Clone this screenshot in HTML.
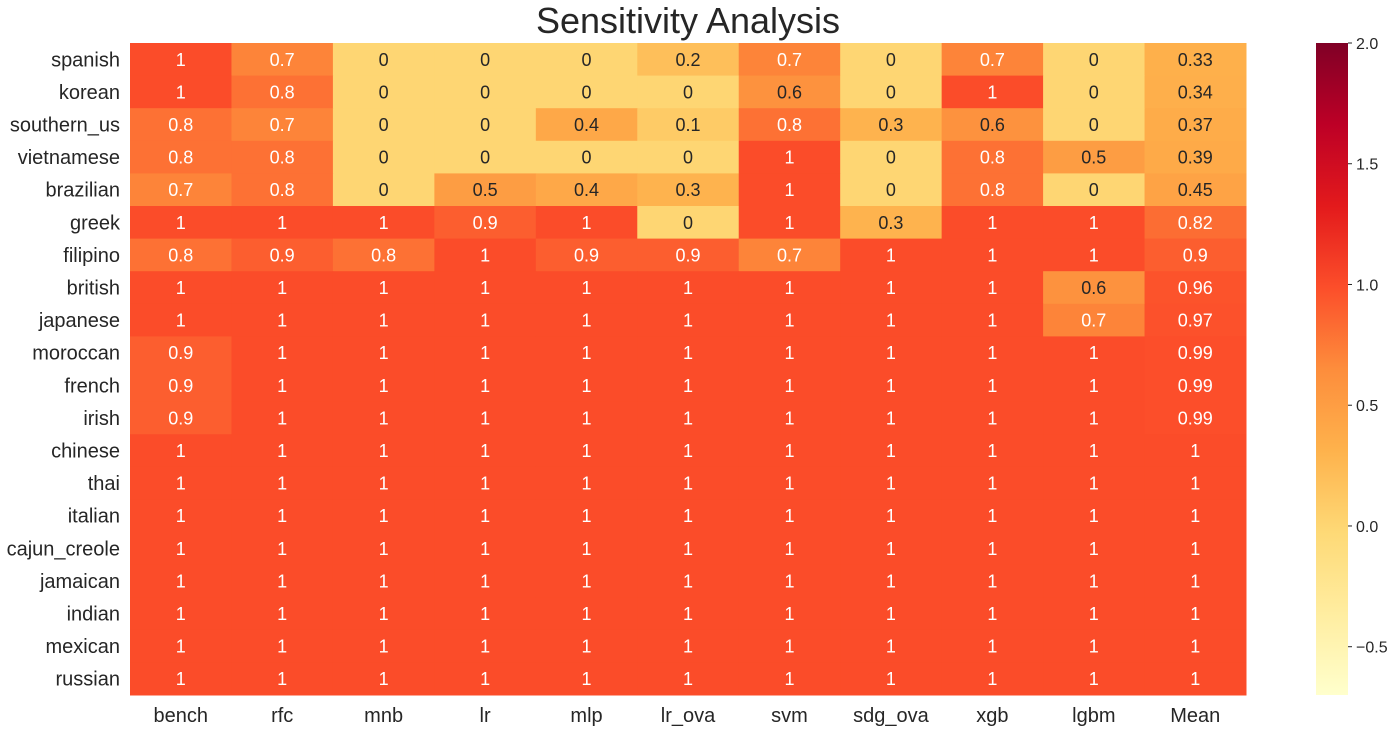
<!DOCTYPE html>
<html><head><meta charset="utf-8"><style>
html,body{margin:0;padding:0;background:#fff;}
svg{display:block;font-family:"Liberation Sans",Arial,sans-serif;}
</style></head><body>
<svg id="chart" width="1397" height="731"></svg>
<script>
const rowLabels=["spanish","korean","southern_us","vietnamese","brazilian","greek","filipino","british","japanese","moroccan","french","irish","chinese","thai","italian","cajun_creole","jamaican","indian","mexican","russian"];
const colLabels=["bench","rfc","mnb","lr","mlp","lr_ova","svm","sdg_ova","xgb","lgbm","Mean"];
const rowSpanish=[1,.7,0,0,0,.2,.7,0,.7,0,.33];
const rowKorean=[1,.8,0,0,0,0,.6,0,1,0,.34];
const rowSouthern=[.8,.7,0,0,.4,.1,.8,.3,.6,0,.37];
const rowVietnamese=[.8,.8,0,0,0,0,1,0,.8,.5,.39];
const rowBrazilian=[.7,.8,0,.5,.4,.3,1,0,.8,0,.45];
const rowGreek=[1,1,1,.9,1,0,1,.3,1,1,.82];
const rowFilipino=[.8,.9,.8,1,.9,.9,.7,1,1,1,.9];
const rowBritish=[1,1,1,1,1,1,1,1,1,.6,.96];
const rowJapanese=[1,1,1,1,1,1,1,1,1,.7,.97];
const rowMoroccan=[.9,1,1,1,1,1,1,1,1,1,.99];
const rowFrench=[.9,1,1,1,1,1,1,1,1,1,.99];
const rowIrish=[.9,1,1,1,1,1,1,1,1,1,.99];
const rowOnes=[1,1,1,1,1,1,1,1,1,1,1];
const values=[rowSpanish,rowKorean,rowSouthern,rowVietnamese,rowBrazilian,rowGreek,rowFilipino,rowBritish,rowJapanese,rowMoroccan,rowFrench,rowIrish,rowOnes,rowOnes,rowOnes,rowOnes,rowOnes,rowOnes,rowOnes,rowOnes];
const cbTicks=[-0.5,0,0.5,1,1.5,2];
const cbTickLabels=["\u22120.5","0.0","0.5","1.0","1.5","2.0"];
const vmin=-0.7, vmax=2.0;

const NS="http://www.w3.org/2000/svg";
const svg=document.getElementById("chart");
const L=130,T=43,R=1246,B=695;
const cw=(R-L)/colLabels.length, ch=(B-T)/rowLabels.length;
const xPos=i=>L+i*cw, yPos=j=>T+j*ch;
const stops=["#ffffcc","#ffeda0","#fed976","#feb24c","#fd8d3c","#fc4e2a","#e31a1c","#bd0026","#800026"];
function hex(h){return [1,3,5].map(k=>parseInt(h.substr(k,2),16));}
function cmap(v){let t=(v-vmin)/(vmax-vmin);t=Math.max(0,Math.min(1,t));const p=t*8,i=Math.min(7,Math.floor(p)),f=p-i;const a=hex(stops[i]),b=hex(stops[i+1]);return a.map((x,k)=>Math.round(x+(b[k]-x)*f));}
function lum(c){const l=c.map(x=>{x/=255;return x<=0.03928?x/12.92:Math.pow((x+0.055)/1.055,2.4);});return .2126*l[0]+.7152*l[1]+.0722*l[2];}
function mk(tag,attrs,parent){const e=document.createElementNS(NS,tag);for(const k in attrs)e.setAttribute(k,attrs[k]);(parent||svg).appendChild(e);return e;}

const title=mk("text",{x:(L+R)/2,y:33,"text-anchor":"middle","font-size":"36",fill:"#262626"});
title.textContent="Sensitivity Analysis";



values.forEach((row,j)=>{row.forEach((v,i)=>{
  const c=cmap(v);
  const r=mk("rect",{x:xPos(i),y:yPos(j),width:cw+0.5,height:ch+0.5,fill:`rgb(${c.join(",")})`});
  
  
  const t=mk("text",{x:xPos(i)+cw/2,y:yPos(j)+ch/2+6.5,"text-anchor":"middle","font-size":"18",fill:lum(c)>0.408?"#262626":"#ffffff"});
  t.textContent=String(v).replace(/^0\./,"0.");
  
  
});});

rowLabels.forEach((lab,j)=>{
  const t=mk("text",{x:120,y:yPos(j)+ch/2+7,"text-anchor":"end","font-size":"20",fill:"#262626"});
  t.textContent=lab;
  
  
});
colLabels.forEach((lab,i)=>{
  const t=mk("text",{x:xPos(i)+cw/2,y:722,"text-anchor":"middle","font-size":"20",fill:"#262626"});
  t.textContent=lab;
  
  
});

// colorbar
const CX=1316,CW=32;
const cbY=v=>B-(v-vmin)/(vmax-vmin)*(B-T);
const defs=mk("defs",{});
const grad=mk("linearGradient",{id:"cbg",x1:"0",y1:"1",x2:"0",y2:"0"},defs);
stops.forEach((s,k)=>mk("stop",{offset:k/8,"stop-color":s},grad));
const cb=mk("rect",{x:CX,y:T,width:CW,height:B-T,fill:"url(#cbg)"});


cbTicks.forEach((v,k)=>{
  const y=cbY(v);
  const tk=mk("line",{x1:CX+CW,x2:CX+CW+4,y1:y,y2:y,stroke:"#262626","stroke-width":1});
  
  
  const t=mk("text",{x:CX+CW+8,y:y+6,"font-size":"16",fill:"#262626"});
  t.textContent=cbTickLabels[k];
  
  
});
</script>
</body></html>
